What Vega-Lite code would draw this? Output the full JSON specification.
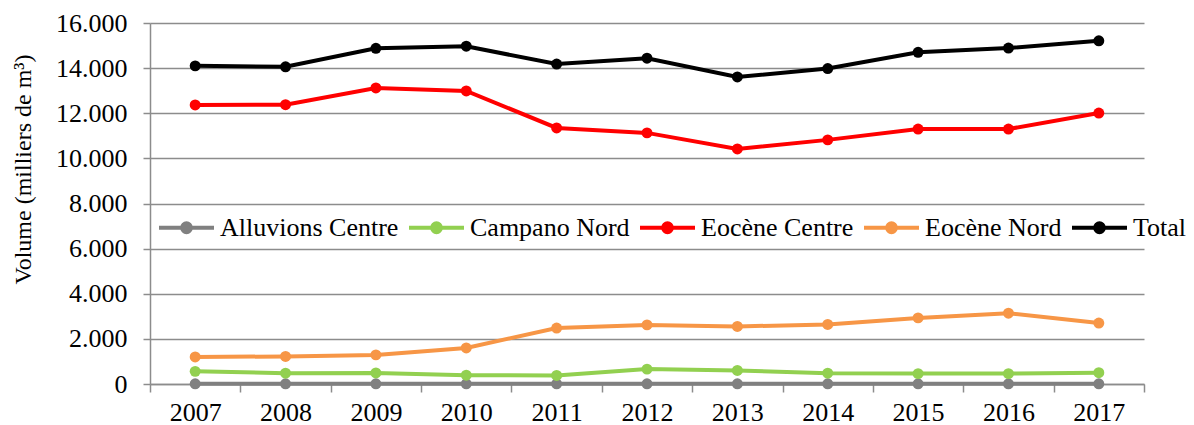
{
  "$schema": "https://vega.github.io/schema/vega-lite/v6.json",
  "width": 994,
  "height": 361,
  "autosize": {"type": "none"},
  "padding": {"left": 150, "top": 23, "right": 50, "bottom": 41},
  "background": "white",
  "config": {
    "locale": {"number": {"decimal": ",", "thousands": ".", "grouping": [3], "currency": ["", " €"]}},
    "view": {"stroke": null},
    "font": "Liberation Serif"
  },
  "data": {
    "values": [
      {"year": "2007", "series": "Alluvions Centre", "value": 10},
      {"year": "2008", "series": "Alluvions Centre", "value": 10},
      {"year": "2009", "series": "Alluvions Centre", "value": 10},
      {"year": "2010", "series": "Alluvions Centre", "value": 10},
      {"year": "2011", "series": "Alluvions Centre", "value": 10},
      {"year": "2012", "series": "Alluvions Centre", "value": 10},
      {"year": "2013", "series": "Alluvions Centre", "value": 10},
      {"year": "2014", "series": "Alluvions Centre", "value": 10},
      {"year": "2015", "series": "Alluvions Centre", "value": 10},
      {"year": "2016", "series": "Alluvions Centre", "value": 10},
      {"year": "2017", "series": "Alluvions Centre", "value": 10},
      {"year": "2007", "series": "Campano Nord", "value": 560},
      {"year": "2008", "series": "Campano Nord", "value": 480},
      {"year": "2009", "series": "Campano Nord", "value": 490},
      {"year": "2010", "series": "Campano Nord", "value": 390},
      {"year": "2011", "series": "Campano Nord", "value": 380},
      {"year": "2012", "series": "Campano Nord", "value": 660},
      {"year": "2013", "series": "Campano Nord", "value": 600},
      {"year": "2014", "series": "Campano Nord", "value": 480},
      {"year": "2015", "series": "Campano Nord", "value": 460},
      {"year": "2016", "series": "Campano Nord", "value": 460},
      {"year": "2017", "series": "Campano Nord", "value": 500},
      {"year": "2007", "series": "Eocène Centre", "value": 12370},
      {"year": "2008", "series": "Eocène Centre", "value": 12380},
      {"year": "2009", "series": "Eocène Centre", "value": 13120},
      {"year": "2010", "series": "Eocène Centre", "value": 12990},
      {"year": "2011", "series": "Eocène Centre", "value": 11350},
      {"year": "2012", "series": "Eocène Centre", "value": 11130},
      {"year": "2013", "series": "Eocène Centre", "value": 10420},
      {"year": "2014", "series": "Eocène Centre", "value": 10820},
      {"year": "2015", "series": "Eocène Centre", "value": 11300},
      {"year": "2016", "series": "Eocène Centre", "value": 11300},
      {"year": "2017", "series": "Eocène Centre", "value": 12010},
      {"year": "2007", "series": "Eocène Nord", "value": 1200},
      {"year": "2008", "series": "Eocène Nord", "value": 1220},
      {"year": "2009", "series": "Eocène Nord", "value": 1290},
      {"year": "2010", "series": "Eocène Nord", "value": 1600},
      {"year": "2011", "series": "Eocène Nord", "value": 2480},
      {"year": "2012", "series": "Eocène Nord", "value": 2620},
      {"year": "2013", "series": "Eocène Nord", "value": 2550},
      {"year": "2014", "series": "Eocène Nord", "value": 2640},
      {"year": "2015", "series": "Eocène Nord", "value": 2930},
      {"year": "2016", "series": "Eocène Nord", "value": 3140},
      {"year": "2017", "series": "Eocène Nord", "value": 2700},
      {"year": "2007", "series": "Total", "value": 14100},
      {"year": "2008", "series": "Total", "value": 14060},
      {"year": "2009", "series": "Total", "value": 14880},
      {"year": "2010", "series": "Total", "value": 14970},
      {"year": "2011", "series": "Total", "value": 14180},
      {"year": "2012", "series": "Total", "value": 14440},
      {"year": "2013", "series": "Total", "value": 13610},
      {"year": "2014", "series": "Total", "value": 13980},
      {"year": "2015", "series": "Total", "value": 14700},
      {"year": "2016", "series": "Total", "value": 14890},
      {"year": "2017", "series": "Total", "value": 15210}
    ]
  },
  "encoding": {
    "x": {
      "field": "year", "type": "ordinal",
      "scale": {"paddingInner": 0, "paddingOuter": 0},
      "axis": {
        "title": null, "labelAngle": 0, "labelFont": "Liberation Serif", "labelFontSize": 26,
        "labelColor": "black", "tickBand": "extent", "tickSize": 8, "tickColor": "#8c8c8c",
        "tickWidth": 1.5, "domainColor": "#8c8c8c", "domainWidth": 1.5, "labelPadding": 7, "grid": false
      }
    },
    "y": {
      "field": "value", "type": "quantitative",
      "scale": {"domain": [0, 16000], "nice": false},
      "axis": {
        "values": [0, 2000, 4000, 6000, 8000, 10000, 12000, 14000, 16000],
        "format": ",d", "labelFont": "Liberation Serif", "labelFontSize": 26, "labelColor": "black",
        "tickSize": 7, "tickColor": "#8c8c8c", "tickWidth": 1.5, "domainColor": "#8c8c8c", "domainWidth": 1.5,
        "labelPadding": 16, "gridColor": "#8c8c8c", "gridWidth": 1.5,
        "title": "Volume (milliers de m³)", "titleFont": "Liberation Serif", "titleFontSize": 24,
        "titleFontWeight": "normal", "titleColor": "black", "titleX": -120, "titleY": 146,
        "titleBaseline": "alphabetic", "titleAngle": -90, "titleAlign": "center"
      }
    },
    "color": {
      "field": "series", "type": "nominal",
      "scale": {
        "domain": ["Alluvions Centre", "Campano Nord", "Eocène Centre", "Eocène Nord", "Total"],
        "range": ["#808080", "#92D050", "#FF0000", "#F79646", "#000000"]
      },
      "legend": {
        "title": null, "orient": "none", "direction": "horizontal", "legendX": 7, "legendY": 175,
        "padding": 0, "labelFont": "Liberation Serif", "labelFontSize": 26, "labelColor": "black",
        "labelLimit": 0, "labelOffset": 4, "columnPadding": 2, "symbolSize": 3025, "symbolStrokeWidth": 4,
        "symbolType": "M-1,0L1,0M-0.16,0A0.16,0.16,0,1,1,0.16,0A0.16,0.16,0,1,1,-0.16,0Z",
        "encode": {
          "symbols": {"update": {"fill": {"scale": "color", "field": "value"}, "stroke": {"scale": "color", "field": "value"}, "opacity": {"value": 1}}}
        }
      }
    }
  },
  "layer": [
    {"mark": {"type": "line", "strokeWidth": 4}},
    {"mark": {"type": "point", "filled": true, "size": 120, "opacity": 1}}
  ]
}
